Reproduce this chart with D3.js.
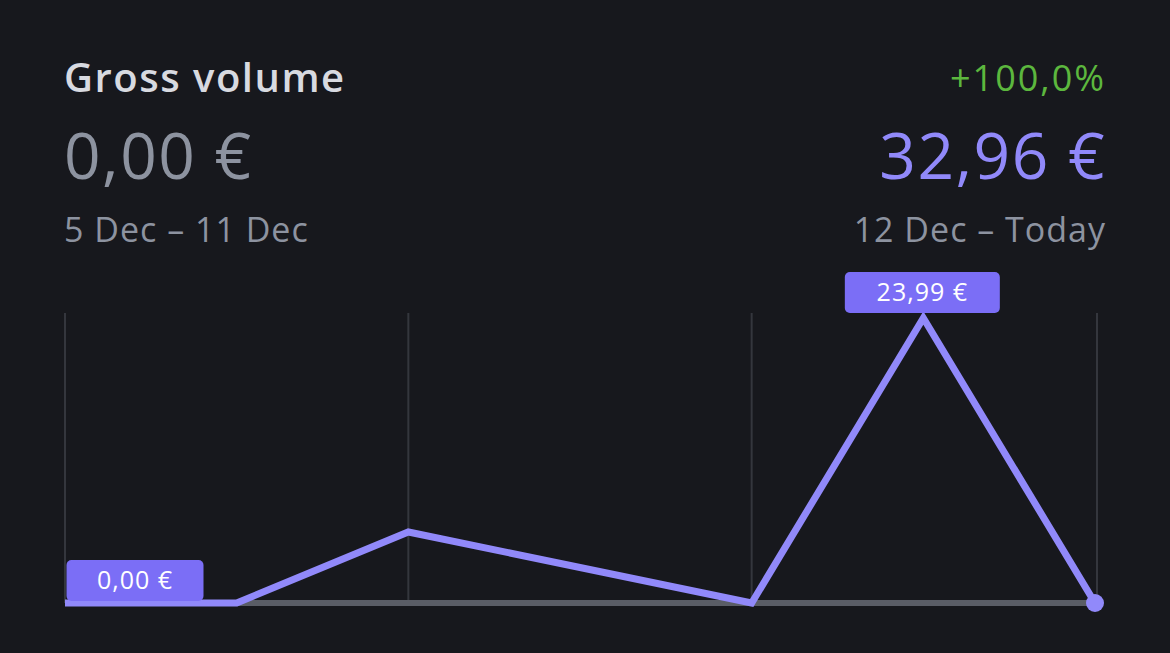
<!DOCTYPE html>
<html><head><meta charset="utf-8">
<script src="https://cdn.jsdelivr.net/npm/d3@7"></script>
<style>body{margin:0;background:#17181d;font-family:"Open Sans",sans-serif}</style>
</head><body><svg id="c" width="1170" height="653"></svg>
<script>
const days = ["12 Dec","13 Dec","14 Dec","15 Dec","16 Dec","17 Dec","18 Dec"];
const current = [0, 0, 5.98, 2.99, 0, 23.99, 0];
const previous = [0, 0, 0, 0, 0, 0, 0];
const gridDays = [0, 2, 4, 6];

const svg = d3.select("#c").style("font-family","'Open Sans',sans-serif");
svg.append("rect").attr("width",1170).attr("height",653).attr("fill","#17181d");
const x = d3.scaleLinear().domain([0,6]).range([65,1095]);
const y = d3.scaleLinear().domain([0,23.99]).range([603,318]);

function t(xp, yp, size, color, txt, anchor, ls, w){
  return svg.append("text").attr("x",xp).attr("y",yp).attr("fill",color).attr("font-size",size)
    .attr("text-anchor",anchor||"start").attr("font-weight",w||400).attr("letter-spacing",ls||0).text(txt);
}
t(64, 92, 40, "#d8dae0", "Gross volume", "start", 1.5, 600);
t(64, 179, 64, "#8d93a0", "0,00 €", "start", 1.5);
t(64, 242, 34, "#8d93a0", "5 Dec – 11 Dec", "start", 1);
t(1106, 91, 36, "#5cb73e", "+100,0%", "end", 2);
t(1106, 179, 64, "#9189fa", "32,96 €", "end", 1.5);
t(1106, 242, 34, "#8d93a0", "12 Dec – Today", "end", 1);

svg.selectAll(".g").data(gridDays).join("line")
  .attr("x1",d=>x(d)+(d===6?2:0)).attr("x2",d=>x(d)+(d===6?2:0)).attr("y1",313).attr("y2",603)
  .attr("stroke","#34363d").attr("stroke-width",2);

const line = d3.line().x((d,i)=>x(i)).y(d=>y(d));
svg.append("path").attr("d",line(previous)).attr("fill","none").attr("stroke","#5a5d66").attr("stroke-width",6);
svg.append("path").attr("d",line(current)).attr("fill","none").attr("stroke","#9189fa").attr("stroke-width",7).attr("stroke-linejoin","miter");
svg.append("circle").attr("cx",x(6)).attr("cy",y(current[6])).attr("r",9).attr("fill","#9189fa");

function tag(cx, cy, w, txt){
  svg.append("rect").attr("x",cx-w/2).attr("y",cy-20).attr("width",w).attr("height",41).attr("rx",5).attr("fill","#7b6ef6");
  t(cx, cy+9, 25, "#fff", txt, "middle", 1);
}
tag(x(5)-1, 292, 155, "23,99 €");
tag(135, 580, 137, "0,00 €");
</script></body></html>
